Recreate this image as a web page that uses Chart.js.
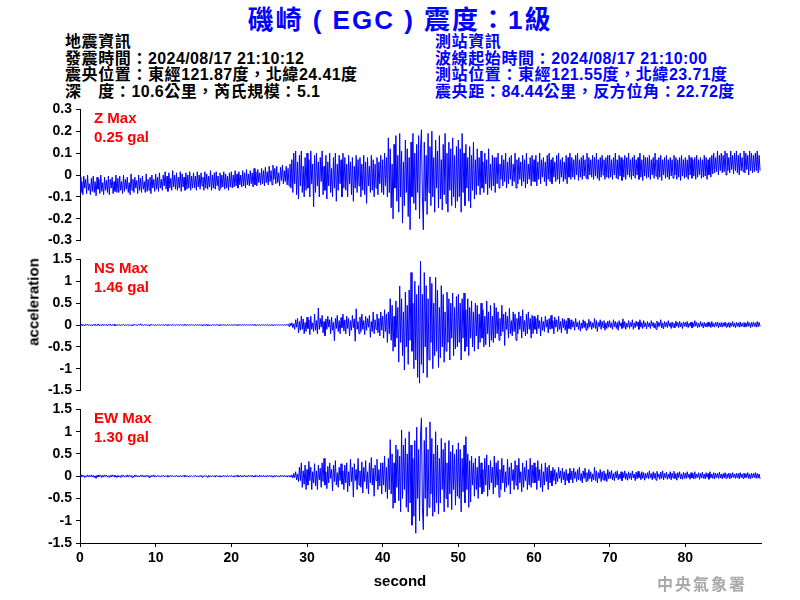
<!DOCTYPE html>
<html>
<head>
<meta charset="utf-8">
<script src="https://cdn.jsdelivr.net/npm/chart.js@4/dist/chart.umd.min.js"></script>
<style>
  html, body { margin:0; padding:0; background:#fff; }
  #wrap { position:relative; width:800px; height:600px; overflow:hidden; background:#fff;
          font-family:"Liberation Sans", Arial, "Noto Sans CJK TC", sans-serif; font-weight:bold; }
  .abs { position:absolute; white-space:nowrap; }
  canvas { position:absolute; left:0; }
  #title { left:0; width:800px; text-align:center; top:4px; font-size:26px; color:#0000FF; line-height:32px; letter-spacing:2px; }
  .info { font-size:16px; line-height:16.5px; letter-spacing:0.4px; }
  .info .c { font-size:16px; letter-spacing:0.6px; }
  .red { color:#FF0000; font-size:15px; line-height:19px; }
</style>
</head>
<body>
<div id="wrap">
  <div id="title" class="abs">磯崎 ( EGC ) 震度：1級</div>
  <div class="abs info" style="left:65px; top:34px; color:#000;"><span class="c">地震資訊</span><br><span class="c">發震時間：</span>2024/08/17 21:10:12<br><span class="c">震央位置：東經</span>121.87<span class="c">度，北緯</span>24.41<span class="c">度</span><br><span class="c">深　度：</span>10.6<span class="c">公里，芮氏規模：</span>5.1</div>
  <div class="abs info" style="left:435px; top:34px; color:#0000FF;"><span class="c">測站資訊</span><br><span class="c">波線起始時間：</span>2024/08/17 21:10:00<br><span class="c">測站位置：東經</span>121.55<span class="c">度，北緯</span>23.71<span class="c">度</span><br><span class="c">震央距：</span>84.44<span class="c">公里，反方位角：</span>22.72<span class="c">度</span></div>

  <canvas id="cz" width="800" height="156" style="top:97px"></canvas>
  <canvas id="cns" width="800" height="156" style="top:247px"></canvas>
  <canvas id="cew" width="800" height="203" style="top:397px"></canvas>

  <div class="abs red" style="left:94px; top:108px;">Z Max<br>0.25 gal</div>
  <div class="abs red" style="left:94px; top:258px;">NS Max<br>1.46 gal</div>
  <div class="abs red" style="left:94px; top:408px;">EW Max<br>1.30 gal</div>

  <div class="abs" style="left:33px; top:302px; font-size:15px; transform:translate(-50%,-50%) rotate(-90deg);">acceleration</div>
  <div class="abs" style="left:400px; top:580px; font-size:15px; transform:translate(-50%,-50%);">second</div>
  <div class="abs" style="left:657px; top:571px; font-size:16px; color:#A8A8A8; letter-spacing:2px; font-family:'Noto Sans CJK TC', sans-serif;">中央氣象署</div>
</div>
<script>
// sampling interval of the traces (seconds)
const sampleStep = 0.125;
const xTickLabels = [0, 10, 20, 30, 40, 50, 60, 70, 80];

// Z component (gal), one row = 5 s
const zValues = [
  -0.01,-0.08,-0.03,-0.09,-0.005,-0.06,-0.02,-0.085,0.0,-0.07,-0.04,-0.09,-0.015,-0.075,-0.005,-0.08,-0.03,-0.095,-0.01,-0.065,
  -0.02,-0.085,0.0,-0.075,-0.035,-0.09,-0.01,-0.07,-0.025,-0.08,-0.005,-0.09,-0.02,-0.06,-0.01,-0.085,-0.03,-0.075,0.0,-0.08,
  -0.015,-0.08,-0.005,-0.07,-0.03,-0.085,0.0,-0.075,-0.02,-0.065,-0.01,-0.08,-0.035,-0.09,0.005,-0.07,-0.02,-0.08,-0.01,-0.06,
  -0.025,-0.085,0.0,-0.07,-0.015,-0.08,-0.005,-0.065,-0.03,-0.08,0.005,-0.075,-0.02,-0.07,-0.01,-0.085,0.0,-0.06,-0.02,-0.075,
  0.005,-0.065,-0.01,-0.075,0.01,-0.06,-0.02,-0.07,0.0,-0.05,0.015,-0.065,-0.005,-0.075,0.01,-0.06,-0.015,-0.07,0.02,-0.055,
  0.0,-0.065,0.01,-0.07,-0.01,-0.06,0.015,-0.075,0.005,-0.055,-0.01,-0.07,0.01,-0.065,0.0,-0.06,0.015,-0.07,-0.005,-0.06,
  0.01,-0.06,-0.005,-0.07,0.015,-0.055,0.0,-0.065,0.01,-0.05,-0.01,-0.07,0.015,-0.06,0.005,-0.065,-0.005,-0.055,0.02,-0.07,
  0.0,-0.06,0.01,-0.065,0.015,-0.05,-0.005,-0.07,0.01,-0.06,0.0,-0.055,0.015,-0.065,0.005,-0.06,-0.005,-0.07,0.01,-0.055,
  0.015,-0.06,0.0,-0.055,0.02,-0.05,0.005,-0.06,0.015,-0.045,0.0,-0.055,0.02,-0.05,0.01,-0.06,0.025,-0.045,0.005,-0.05,
  0.02,-0.04,0.01,-0.055,0.03,-0.045,0.015,-0.05,0.025,-0.035,0.01,-0.045,0.03,-0.04,0.02,-0.05,0.035,-0.035,0.015,-0.045,
  0.04,-0.03,0.02,-0.045,0.045,-0.02,0.03,-0.04,0.04,-0.035,0.01,-0.05,0.035,-0.025,0.045,-0.04,0.02,-0.03,0.04,-0.045,
  0.03,-0.05,0.05,-0.06,0.07,-0.08,0.1,-0.04,0.11,-0.09,0.06,-0.11,0.09,-0.05,0.11,-0.08,0.04,-0.1,0.08,-0.07,
  0.1,-0.06,0.07,-0.1,0.11,-0.04,0.05,-0.145,0.09,-0.08,0.1,-0.05,0.06,-0.1,0.08,-0.03,0.11,-0.09,0.04,-0.07,
  0.09,-0.11,0.06,-0.05,0.1,-0.08,0.03,-0.1,0.08,-0.06,0.1,-0.12,0.05,-0.07,0.09,-0.04,0.07,-0.1,0.1,-0.06,
  0.08,-0.07,0.05,-0.1,0.09,-0.04,0.06,-0.09,0.08,-0.12,0.04,-0.06,0.09,-0.08,0.07,-0.05,0.08,-0.1,0.05,-0.07,
  0.09,-0.09,0.06,-0.13,0.08,-0.05,0.04,-0.08,0.09,-0.07,0.07,-0.1,0.05,-0.06,0.08,-0.09,0.06,-0.04,0.09,-0.08,
  0.07,-0.09,0.1,-0.05,0.08,-0.1,0.17,-0.08,0.12,-0.15,0.05,-0.2,0.14,-0.06,0.18,-0.12,0.09,-0.17,0.19,-0.1,
  0.11,-0.22,0.06,-0.14,0.16,-0.08,0.12,-0.19,0.08,-0.25,0.15,-0.1,0.19,-0.13,0.1,-0.16,0.14,-0.08,0.18,-0.2,
  0.12,0.207,-0.1,-0.25,0.15,-0.12,0.09,-0.18,0.19,-0.08,0.13,-0.14,0.2,-0.1,0.08,-0.17,0.16,-0.06,0.11,-0.15,
  0.18,-0.11,0.07,-0.16,0.14,-0.09,0.19,-0.13,0.1,-0.17,0.15,-0.07,0.12,-0.14,0.17,-0.1,0.09,-0.15,0.13,-0.12,
  0.16,-0.1,0.12,-0.17,0.19,-0.08,0.1,-0.14,0.14,-0.06,0.08,-0.12,0.13,-0.15,0.09,-0.07,0.15,-0.11,0.07,-0.09,
  0.12,-0.05,0.08,-0.09,0.11,-0.06,0.06,-0.08,0.1,-0.04,0.07,-0.09,0.12,-0.06,0.05,-0.07,0.09,-0.05,0.08,-0.08,
  0.08,-0.04,0.1,-0.06,0.05,-0.02,0.09,-0.05,0.07,-0.03,0.1,-0.06,0.06,-0.04,0.08,-0.02,0.09,-0.05,0.05,-0.03,
  0.1,-0.06,0.07,-0.04,0.08,-0.02,0.06,-0.05,0.09,-0.03,0.07,-0.06,0.1,-0.04,0.05,-0.02,0.08,-0.05,0.09,-0.03,
  0.07,-0.03,0.09,-0.05,0.06,-0.02,0.1,-0.04,0.07,-0.01,0.08,-0.03,0.06,-0.05,0.09,-0.02,0.1,-0.03,0.07,-0.04,
  0.08,-0.01,0.06,-0.03,0.09,-0.02,0.1,-0.04,0.07,-0.01,0.08,-0.03,0.06,-0.02,0.09,-0.04,0.08,-0.01,0.1,-0.02,
  0.08,-0.01,0.07,-0.02,0.09,0.0,0.1,-0.025,0.07,-0.01,0.08,-0.02,0.09,-0.005,0.07,-0.015,0.1,-0.02,0.08,0.0,
  0.07,-0.01,0.09,-0.02,0.08,-0.005,0.1,-0.015,0.07,-0.025,0.08,-0.01,0.09,0.0,0.07,-0.02,0.08,-0.01,0.09,-0.015,
  0.09,-0.01,0.07,-0.02,0.08,0.0,0.1,-0.015,0.07,-0.02,0.09,-0.005,0.08,-0.025,0.07,-0.01,0.09,-0.02,0.08,0.0,
  0.1,-0.01,0.07,-0.02,0.08,-0.005,0.09,-0.015,0.07,0.0,0.08,-0.02,0.1,-0.01,0.07,-0.025,0.09,-0.005,0.08,-0.015,
  0.08,-0.01,0.09,-0.02,0.07,0.0,0.08,-0.015,0.1,-0.005,0.07,-0.02,0.08,-0.01,0.09,-0.025,0.07,0.0,0.08,-0.015,
  0.09,-0.01,0.07,-0.02,0.08,-0.005,0.07,-0.015,0.09,0.0,0.08,-0.02,0.07,-0.01,0.08,-0.025,0.09,-0.005,0.07,-0.015,
  0.08,-0.01,0.07,-0.02,0.09,0.0,0.08,-0.015,0.07,-0.005,0.08,-0.02,0.09,-0.01,0.07,0.0,0.08,-0.015,0.07,-0.01,
  0.09,-0.005,0.08,-0.02,0.07,0.0,0.08,-0.01,0.09,0.005,0.1,0.01,0.08,0.015,0.11,0.0,0.09,0.02,0.1,0.01,
  0.09,0.015,0.11,0.0,0.1,0.02,0.08,0.01,0.11,0.025,0.09,0.005,0.1,0.02,0.11,0.01,0.09,0.0,0.1,0.02,
  0.08,0.015,0.11,0.01,0.1,0.025,0.09,0.0,0.11,0.02,0.1,0.01,0.09,0.015,0.1,0.02,0.11,0.01,0.09,0.02
];

// NS component (gal)
const nsValues = [
  0.015,-0.01,0.02,-0.015,0.01,-0.02,0.015,-0.005,0.02,-0.01,0.01,-0.015,0.005,-0.02,0.015,-0.01,0.02,-0.015,0.01,-0.005,
  0.015,-0.02,0.01,-0.01,0.02,-0.015,0.005,-0.01,0.015,-0.02,0.01,-0.005,0.02,-0.015,0.01,-0.01,0.015,-0.02,0.005,-0.01,
  0.01,-0.01,0.005,-0.015,0.01,-0.005,0.015,-0.01,0.005,-0.01,0.01,-0.005,0.01,-0.015,0.005,-0.01,0.01,-0.005,0.015,-0.01,
  0.005,-0.01,0.01,-0.005,0.03,-0.01,0.005,-0.015,0.01,-0.005,0.01,-0.01,0.005,-0.015,0.01,-0.005,0.015,-0.01,0.005,-0.01,
  0.005,-0.01,0.01,-0.005,0.005,-0.01,0.01,-0.005,0.005,-0.01,0.01,-0.005,0.005,-0.01,0.01,-0.005,0.005,-0.01,0.01,-0.005,
  0.005,-0.01,0.01,-0.005,0.005,-0.01,0.01,-0.005,0.005,-0.01,0.01,-0.005,0.005,-0.01,0.01,-0.005,0.005,-0.01,0.01,-0.005,
  0.005,-0.01,0.01,-0.005,0.005,-0.01,0.01,-0.005,0.005,-0.01,0.01,-0.005,0.005,-0.01,0.02,-0.025,0.01,-0.02,0.005,-0.01,
  0.01,-0.005,0.005,-0.01,0.01,-0.005,0.005,-0.01,0.01,-0.005,0.005,-0.01,0.01,-0.005,0.005,-0.015,0.01,-0.005,0.005,-0.01,
  0.01,-0.005,0.005,-0.01,0.01,-0.005,0.005,-0.01,0.015,-0.005,0.005,-0.01,0.01,-0.005,0.005,-0.01,0.01,-0.005,0.005,-0.01,
  0.01,-0.005,0.005,-0.01,0.01,-0.005,0.005,-0.015,0.01,-0.005,0.005,-0.01,0.01,-0.005,0.005,-0.01,0.01,-0.005,0.005,-0.01,
  0.005,-0.01,0.01,-0.005,0.005,-0.01,0.01,-0.005,0.005,-0.01,0.01,-0.005,0.005,-0.01,0.01,-0.005,0.005,-0.01,0.01,-0.005,
  0.02,-0.03,0.04,-0.02,0.05,-0.06,0.03,-0.1,0.12,-0.05,0.15,-0.18,0.08,-0.12,0.2,-0.1,0.14,-0.2,0.06,-0.15,
  0.18,-0.08,0.12,-0.22,0.2,-0.1,0.05,-0.15,0.25,-0.12,0.1,-0.2,0.39,-0.1,0.15,-0.05,0.22,-0.18,0.08,-0.25,
  0.14,-0.1,0.2,-0.05,0.12,-0.2,0.18,-0.12,0.06,-0.36,0.15,-0.08,0.22,-0.15,0.1,-0.2,0.17,-0.06,0.25,-0.14,
  0.12,-0.2,0.2,-0.08,0.15,-0.25,0.1,-0.12,0.22,-0.06,0.14,-0.37,0.37,-0.1,0.08,-0.2,0.18,-0.15,0.25,-0.1,
  0.1,-0.22,0.2,-0.12,0.15,-0.05,0.22,-0.28,0.08,-0.15,0.3,-0.2,0.12,-0.1,0.25,-0.18,0.15,-0.25,0.3,-0.12,
  0.2,-0.3,0.35,-0.15,0.25,-0.4,0.3,-0.2,0.6,-0.35,0.45,-0.6,0.2,-0.5,0.55,-0.3,0.4,-0.85,0.89,-0.4,
  0.6,-0.7,0.3,-1.03,0.75,-0.5,0.45,-0.9,0.8,-0.35,1.2,-0.6,0.5,-1.0,1.0,-0.8,0.7,-1.2,0.9,-1.33,
  1.46,-0.9,0.7,-1.1,1.2,-0.5,0.9,-1.2,0.6,-0.8,1.1,-0.4,0.95,-1.0,0.5,-0.7,1.09,-0.6,0.8,-0.97,
  0.4,-0.75,0.9,-0.5,0.7,-0.85,0.3,-0.6,0.75,-0.4,0.6,-0.8,0.5,-0.3,0.73,-0.7,0.4,-0.55,0.65,-0.5,
  0.7,-0.4,0.5,-0.8,0.6,-0.3,0.73,-0.6,0.35,-0.5,0.6,-0.7,0.4,-0.3,0.55,-0.5,0.3,-0.6,0.5,-0.25,
  0.45,-0.55,0.25,-0.4,0.5,-0.3,0.35,-0.5,0.2,-0.45,0.55,-0.2,0.3,-0.5,0.45,-0.35,0.2,-0.4,0.5,-0.3,
  0.4,-0.2,0.3,-0.35,0.15,-0.25,0.45,-0.15,0.25,-0.47,0.3,-0.1,0.2,-0.3,0.38,-0.2,0.1,-0.25,0.3,-0.15,
  0.25,-0.35,0.15,-0.2,0.3,-0.1,0.2,-0.3,0.35,-0.15,0.1,-0.25,0.25,-0.2,0.3,-0.1,0.15,-0.3,0.22,-0.2,
  0.2,-0.1,0.15,-0.2,0.23,-0.08,0.1,-0.25,0.18,-0.12,0.08,-0.15,0.2,-0.05,0.12,-0.18,0.15,-0.1,0.22,-0.08,
  0.1,-0.2,0.18,-0.05,0.12,-0.15,0.2,-0.1,0.08,-0.18,0.15,-0.06,0.13,-0.12,0.1,-0.2,0.16,-0.08,0.12,-0.1,
  0.12,-0.05,0.08,-0.12,0.15,-0.04,0.06,-0.1,0.1,-0.14,0.05,-0.08,0.12,-0.06,0.09,-0.12,0.04,-0.08,0.13,-0.05,
  0.08,-0.1,0.05,-0.06,0.15,-0.08,0.1,-0.15,0.06,-0.04,0.12,-0.1,0.08,-0.06,0.1,-0.12,0.05,-0.08,0.09,-0.05,
  0.1,-0.06,0.05,-0.1,0.12,-0.04,0.08,-0.08,0.06,-0.12,0.1,-0.03,0.05,-0.08,0.14,-0.06,0.08,-0.1,0.04,-0.05,
  0.1,-0.08,0.06,-0.04,0.12,-0.1,0.05,-0.06,0.09,-0.03,0.07,-0.1,0.12,-0.05,0.06,-0.08,0.1,-0.04,0.05,-0.09,
  0.08,-0.04,0.05,-0.08,0.1,-0.03,0.06,-0.07,0.04,-0.1,0.09,-0.05,0.06,-0.03,0.12,-0.07,0.05,-0.09,0.08,-0.04,
  0.06,-0.06,0.1,-0.03,0.05,-0.08,0.07,-0.05,0.04,-0.07,0.09,-0.03,0.06,-0.06,0.08,-0.04,0.05,-0.08,0.07,-0.03,
  0.06,-0.04,0.08,-0.06,0.04,-0.03,0.07,-0.07,0.05,-0.04,0.1,-0.03,0.06,-0.06,0.04,-0.05,0.08,-0.03,0.05,-0.07,
  0.06,-0.04,0.04,-0.05,0.07,-0.03,0.05,-0.06,0.08,-0.04,0.04,-0.05,0.06,-0.03,0.07,-0.06,0.05,-0.04,0.06,-0.05,
  0.05,-0.03,0.07,-0.05,0.04,-0.04,0.06,-0.06,0.05,-0.03,0.08,-0.04,0.04,-0.06,0.06,-0.03,0.05,-0.05,0.07,-0.04,
  0.04,-0.03,0.06,-0.05,0.05,-0.04,0.08,-0.03,0.05,-0.06,0.06,-0.04,0.07,-0.03,0.05,-0.05,0.08,-0.04,0.06,-0.03
];

// EW component (gal)
const ewValues = [
  0.02,-0.02,0.03,-0.01,0.02,-0.03,0.01,-0.02,0.03,-0.02,0.02,-0.01,0.03,-0.02,0.02,-0.03,0.01,-0.05,0.02,-0.02,
  0.03,-0.01,0.02,-0.03,0.02,-0.02,0.03,-0.01,0.02,-0.02,0.01,-0.03,0.02,-0.02,0.03,-0.01,0.02,-0.02,0.01,-0.03,
  0.02,-0.02,0.01,-0.03,0.03,-0.01,0.02,-0.02,0.01,-0.02,0.03,-0.02,0.02,-0.01,0.02,-0.03,0.01,-0.02,0.03,-0.01,
  0.02,-0.02,0.01,-0.02,0.02,-0.01,0.03,-0.02,0.01,-0.02,0.02,-0.01,0.02,-0.03,0.01,-0.02,0.02,-0.01,0.03,-0.02,
  0.01,-0.01,0.02,-0.01,0.01,-0.02,0.01,-0.01,0.02,-0.01,0.01,-0.01,0.015,-0.02,0.01,-0.01,0.02,-0.01,0.01,-0.015,
  0.01,-0.01,0.02,-0.01,0.01,-0.02,0.015,-0.01,0.01,-0.01,0.02,-0.015,0.01,-0.01,0.01,-0.02,0.015,-0.01,0.01,-0.01,
  0.01,-0.01,0.02,-0.01,0.01,-0.015,0.01,-0.01,0.02,-0.02,0.01,-0.01,0.015,-0.01,0.01,-0.03,0.02,-0.02,0.01,-0.01,
  0.015,-0.01,0.01,-0.02,0.02,-0.01,0.01,-0.01,0.015,-0.02,0.01,-0.01,0.02,-0.01,0.01,-0.015,0.02,-0.01,0.01,-0.01,
  0.02,-0.01,0.01,-0.02,0.015,-0.01,0.02,-0.015,0.01,-0.01,0.02,-0.02,0.01,-0.01,0.025,-0.015,0.01,-0.02,0.02,-0.01,
  0.015,-0.01,0.02,-0.02,0.01,-0.015,0.02,-0.01,0.01,-0.02,0.025,-0.01,0.015,-0.015,0.02,-0.01,0.01,-0.02,0.02,-0.01,
  0.015,-0.01,0.02,-0.015,0.01,-0.02,0.02,-0.01,0.015,-0.015,0.01,-0.02,0.02,-0.01,0.015,-0.015,0.02,-0.01,0.01,-0.02,
  0.02,-0.01,0.015,-0.02,0.03,-0.04,0.06,-0.03,0.1,-0.08,0.05,-0.12,0.2,-0.1,0.3,-0.25,0.12,-0.18,0.25,-0.3,
  0.15,-0.2,0.33,-0.1,0.2,-0.3,0.1,-0.15,0.28,-0.22,0.12,-0.3,0.25,-0.08,0.18,-0.25,0.3,-0.12,0.4,-0.2,
  0.1,-0.28,0.22,-0.15,0.3,-0.05,0.15,-0.33,0.25,-0.12,0.35,-0.2,0.08,-0.25,0.2,-0.1,0.28,-0.18,0.12,-0.3,
  0.25,-0.15,0.3,-0.35,0.1,-0.22,0.38,-0.12,0.2,-0.47,0.28,-0.1,0.15,-0.3,0.4,-0.2,0.12,-0.25,0.32,-0.38,
  0.2,-0.12,0.35,-0.28,0.1,-0.4,0.3,-0.15,0.42,-0.2,0.18,-0.45,0.25,-0.1,0.38,-0.3,0.15,-0.22,0.3,-0.4,
  0.3,-0.2,0.45,-0.35,0.2,-0.5,0.4,-0.3,0.82,-0.4,0.5,-0.72,0.3,-0.6,0.7,-0.25,0.6,-0.55,0.45,-0.8,
  1.04,-0.5,0.7,-0.3,0.85,-0.7,0.5,-0.8,1.0,-0.6,0.7,-1.1,0.4,-0.9,0.8,-1.28,1.1,-0.5,0.6,-1.0,
  0.9,1.31,-0.7,-1.2,0.8,-0.5,1.1,-0.9,0.6,-0.7,1.22,-0.4,0.85,-0.9,0.5,-0.8,1.0,-0.6,0.7,-0.85,
  0.4,-0.6,0.85,-0.3,0.6,-0.8,0.75,-0.5,0.3,-0.7,0.8,-0.4,0.55,-0.75,0.7,-0.3,0.5,-0.65,0.6,-0.45,
  0.75,-0.5,0.6,-0.8,0.4,-0.35,0.7,-0.6,0.89,-0.3,0.5,-0.7,0.35,-0.58,0.45,-0.2,0.3,-0.45,0.4,-0.3,
  0.2,-0.5,0.45,-0.25,0.3,-0.4,0.15,-0.35,0.4,-0.2,0.48,-0.45,0.25,-0.3,0.35,-0.15,0.2,-0.4,0.45,-0.25,
  0.3,-0.2,0.35,-0.47,0.15,-0.3,0.4,-0.15,0.25,-0.35,0.1,-0.25,0.38,-0.2,0.2,-0.4,0.3,-0.1,0.15,-0.3,
  0.35,-0.2,0.25,-0.3,0.4,-0.15,0.1,-0.35,0.3,-0.25,0.2,-0.1,0.35,-0.3,0.15,-0.2,0.4,-0.25,0.25,-0.15,
  0.3,-0.15,0.2,-0.3,0.35,-0.1,0.15,-0.25,0.28,-0.35,0.1,-0.2,0.3,-0.12,0.2,-0.3,0.25,-0.15,0.12,-0.22,
  0.2,-0.1,0.15,-0.18,0.08,-0.12,0.2,-0.05,0.12,-0.15,0.18,-0.08,0.1,-0.2,0.15,-0.1,0.06,-0.15,0.18,-0.08,
  0.12,-0.15,0.18,-0.05,0.1,-0.12,0.15,-0.08,0.2,-0.1,0.06,-0.15,0.12,-0.05,0.18,-0.12,0.08,-0.1,0.15,-0.06,
  0.1,-0.12,0.05,-0.08,0.2,-0.1,0.12,-0.15,0.08,-0.05,0.15,-0.12,0.1,-0.08,0.12,-0.1,0.06,-0.12,0.15,-0.06,
  0.1,-0.05,0.13,-0.08,0.06,-0.1,0.1,-0.04,0.12,-0.08,0.05,-0.06,0.1,-0.1,0.08,-0.04,0.12,-0.07,0.06,-0.09,
  0.1,-0.05,0.07,-0.08,0.12,-0.04,0.05,-0.1,0.09,-0.06,0.11,-0.03,0.06,-0.08,0.1,-0.05,0.08,-0.09,0.06,-0.04,
  0.08,-0.06,0.12,-0.04,0.06,-0.08,0.1,-0.05,0.07,-0.09,0.11,-0.03,0.05,-0.07,0.09,-0.05,0.12,-0.08,0.06,-0.04,
  0.09,-0.07,0.05,-0.05,0.1,-0.08,0.07,-0.04,0.11,-0.06,0.06,-0.09,0.08,-0.03,0.1,-0.06,0.05,-0.07,0.09,-0.05,
  0.07,-0.05,0.1,-0.03,0.05,-0.07,0.08,-0.04,0.06,-0.06,0.1,-0.05,0.05,-0.03,0.08,-0.07,0.06,-0.04,0.09,-0.05,
  0.05,-0.06,0.08,-0.03,0.06,-0.07,0.1,-0.04,0.05,-0.05,0.08,-0.06,0.07,-0.03,0.06,-0.05,0.09,-0.04,0.05,-0.06,
  0.06,-0.04,0.08,-0.05,0.05,-0.03,0.07,-0.06,0.06,-0.04,0.08,-0.03,0.05,-0.05,0.07,-0.04,0.06,-0.06,0.08,-0.03,
  0.05,-0.05,0.07,-0.04,0.06,-0.03,0.08,-0.05,0.05,-0.06,0.07,-0.04,0.06,-0.03,0.08,-0.05,0.06,-0.04,0.05,-0.06
];

const zRange = { min: -0.3, max: 0.3, step: 0.1 };
const hRange = { min: -1.5, max: 1.5, step: 0.5 };

const tickFont = { family: "'Liberation Sans', Arial, sans-serif", size: 14, weight: 'bold' };

function fmt(v) {
  const r = Math.round(v * 100) / 100;
  return String(r === 0 ? 0 : r);
}

function makePanel(id, values, range, showX) {
  const pts = values.map((v, i) => ({ x: i * sampleStep, y: v }));
  new Chart(document.getElementById(id), {
    type: 'line',
    data: { datasets: [{ data: pts, borderColor: '#0000FF', borderWidth: 1, pointRadius: 0, tension: 0, fill: false, borderJoinStyle: 'miter' }] },
    options: {
      responsive: false, animation: false, events: [],
      layout: { padding: { top: 10, bottom: showX ? 0 : 10, left: 0, right: 39 } },
      plugins: { legend: { display: false }, tooltip: { enabled: false }, title: { display: false } },
      scales: {
        x: {
          type: 'linear', min: 0, max: 90, display: showX,
          afterBuildTicks(s) { s.ticks = xTickLabels.map(v => ({ value: v })); },
          afterFit(s) { if (showX) s.height = 57; },
          ticks: { color: '#000', font: tickFont, padding: 3, maxRotation: 0, autoSkip: false, callback: v => String(v) },
          grid: { drawOnChartArea: false, drawTicks: true, tickLength: 4, color: '#000', lineWidth: 1 },
          border: { display: true, color: '#000', width: 1 }
        },
        y: {
          min: range.min, max: range.max,
          afterFit(s) { s.width = 80; },
          ticks: { stepSize: range.step, color: '#000', font: tickFont, padding: 4, autoSkip: false, callback: v => fmt(v) },
          grid: { drawOnChartArea: false, drawTicks: true, tickLength: 4, color: '#000', lineWidth: 1 },
          border: { display: true, color: '#000', width: 1 }
        }
      }
    }
  });
}

makePanel('cz', zValues, zRange, false);
makePanel('cns', nsValues, hRange, false);
makePanel('cew', ewValues, hRange, true);
</script>
</body>
</html>
